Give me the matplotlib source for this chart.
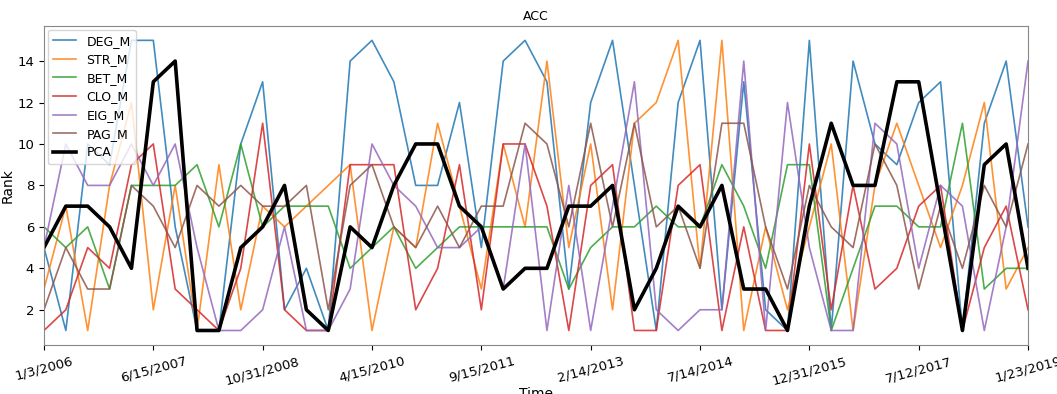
import matplotlib
matplotlib.use("Agg")
import matplotlib.pyplot as plt
import numpy as np

tick_labels = ['1/3/2006', '6/15/2007', '10/31/2008', '4/15/2010', '9/15/2011',
               '2/14/2013', '7/14/2014', '12/31/2015', '7/12/2017', '1/23/2019']

deg_m = [5, 1, 10, 9, 15, 15, 6, 1, 1, 10, 13, 2, 4, 1, 14, 15, 13, 8, 8, 12, 5, 14, 15,
         13, 3, 12, 15, 8, 1, 12, 15, 2, 13, 2, 1, 15, 1, 14, 10, 9, 12, 13, 1, 11, 14, 6]
str_m = [3, 7, 1, 8, 12, 2, 8, 1, 9, 2, 7, 6, 7, 8, 9, 1, 6, 5, 11, 7, 3, 10, 6,
         14, 5, 10, 2, 11, 12, 15, 4, 15, 1, 6, 2, 6, 10, 1, 8, 11, 8, 5, 8, 12, 3, 5]
bet_m = [6, 5, 6, 3, 8, 8, 8, 9, 6, 10, 6, 7, 7, 7, 4, 5, 6, 4, 5, 6, 6, 6, 6,
         6, 3, 5, 6, 6, 7, 6, 6, 9, 7, 4, 9, 9, 1, 4, 7, 7, 6, 6, 11, 3, 4, 4]
clo_m = [1, 2, 5, 4, 9, 10, 3, 2, 1, 4, 11, 2, 1, 1, 9, 9, 9, 2, 4, 9, 2, 10, 10,
         7, 1, 8, 9, 1, 1, 8, 9, 1, 6, 1, 1, 10, 2, 8, 3, 4, 7, 8, 1, 5, 7, 2]
eig_m = [5, 10, 8, 8, 10, 8, 10, 5, 1, 1, 2, 6, 1, 1, 3, 10, 8, 7, 5, 5, 6, 3, 10,
         1, 8, 1, 7, 13, 2, 1, 2, 2, 14, 1, 12, 5, 1, 1, 11, 10, 4, 8, 7, 1, 6, 14]
pag_m = [2, 5, 3, 3, 8, 7, 5, 8, 7, 8, 7, 7, 8, 2, 8, 9, 6, 5, 7, 5, 7, 7, 11,
         10, 6, 11, 6, 11, 6, 7, 4, 11, 11, 6, 3, 8, 6, 5, 10, 8, 3, 7, 4, 8, 6, 10]
pca = [5, 7, 7, 6, 4, 13, 14, 1, 1, 5, 6, 8, 2, 1, 6, 5, 8, 10, 10, 7, 6, 3, 4,
       4, 7, 7, 8, 2, 4, 7, 6, 8, 3, 3, 1, 7, 11, 8, 8, 13, 13, 7, 1, 9, 10, 4]

x = np.arange(len(pca))

fig = plt.figure(figsize=(10.57, 3.94), dpi=100)
ax = fig.add_axes([0.0416, 0.1244, 0.931, 0.81])

ax.plot(x, deg_m, label='DEG_M', color='tab:blue', linewidth=1.2, alpha=0.85)
ax.plot(x, str_m, label='STR_M', color='tab:orange', linewidth=1.2, alpha=0.85)
ax.plot(x, bet_m, label='BET_M', color='tab:green', linewidth=1.2, alpha=0.85)
ax.plot(x, clo_m, label='CLO_M', color='tab:red', linewidth=1.2, alpha=0.85)
ax.plot(x, eig_m, label='EIG_M', color='tab:purple', linewidth=1.2, alpha=0.85)
ax.plot(x, pag_m, label='PAG_M', color='tab:brown', linewidth=1.2, alpha=0.85)
ax.plot(x, pca, label='PCA', color='black', linewidth=2.6)

ax.set_xlim(x[0], x[-1])
ax.set_yticks([2, 4, 6, 8, 10, 12, 14])
ax.set_xticks(x[::5])
ax.set_xticklabels(tick_labels, rotation=15, fontsize=9.5)
ax.tick_params(axis='y', labelsize=9.5)
ax.set_xlabel('Time', fontsize=10, labelpad=0)
ax.set_ylabel('Rank', fontsize=10, labelpad=2)
ax.set_title('ACC', fontsize=9, pad=4)
ax.legend(loc='upper left', fontsize=9, handlelength=1.9, labelspacing=0.45,
          borderaxespad=0.3, borderpad=0.4)
for s in ax.spines.values():
    s.set_color('#888888')

fig.savefig('out.png', dpi=100)
plt.close(fig)
